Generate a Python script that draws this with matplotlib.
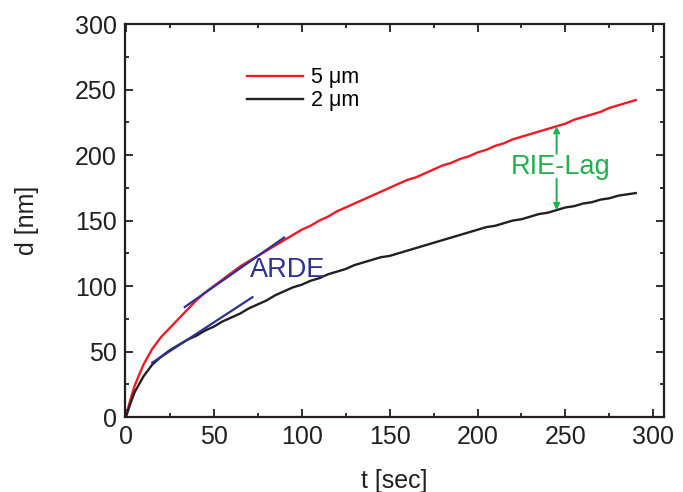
import matplotlib
matplotlib.use("Agg")
import matplotlib.pyplot as plt
from matplotlib.ticker import MultipleLocator

# etch depth vs time
t_sec = [0, 2.5] + list(range(5, 295, 5))
d_5um = [0, 13, 24, 40, 52, 61, 68, 75, 82, 89, 95, 100, 105, 110, 115, 119, 123,
         127, 131, 135, 139, 143, 146, 150, 153, 157, 160, 163, 166, 169, 172,
         175, 178, 181, 183, 186, 189, 192, 194, 197, 199, 202, 204, 207, 209,
         212, 214, 216, 218, 220, 222, 224, 227, 229, 231, 233, 236, 238, 240, 242]
d_2um = [0, 10, 19, 31, 40, 46, 51, 55, 59, 62, 66, 69, 73, 76, 79, 83, 86,
         89, 93, 96, 99, 101, 104, 106, 109, 111, 113, 116, 118, 120, 122,
         123, 125, 127, 129, 131, 133, 135, 137, 139, 141, 143, 145, 146, 148,
         150, 151, 153, 155, 156, 158, 160, 161, 163, 164, 166, 167, 169, 170, 171]

# initial-slope guide lines (ARDE)
arde_5um_t = [33.5, 90]
arde_5um_d = [84, 137]
arde_2um_t = [15, 72]
arde_2um_d = [41.5, 91.5]

# RIE lag marker
lag_t = 245
lag_top = 222
lag_bottom = 158

plt.rcParams['font.family'] = ['Liberation Sans', 'DejaVu Sans']
text_col = '#231f20'
blue = '#2e3192'
green = '#22b04b'

fig = plt.figure(figsize=(6.83, 4.92), dpi=100)
ax = fig.add_axes([0.183, 0.1524, 0.789, 0.7986])

ax.plot(t_sec, d_5um, color='#ed1c24', lw=1.7, label=u'5 \u03bcm')
ax.plot(t_sec, d_2um, color='#231f20', lw=1.7, label=u'2 \u03bcm')

ax.plot(arde_5um_t, arde_5um_d, color=blue, lw=1.6)
ax.plot(arde_2um_t, arde_2um_d, color=blue, lw=1.6)
ax.text(70.5, 107, 'ARDE', color=blue, fontsize=19.5)

arrow_kw = dict(arrowstyle='-|>', color=green, lw=1.4, mutation_scale=9,
                shrinkA=0, shrinkB=0)
ax.annotate('', xy=(lag_t, lag_top), xytext=(lag_t, 201), arrowprops=arrow_kw)
ax.annotate('', xy=(lag_t, lag_bottom), xytext=(lag_t, 182), arrowprops=arrow_kw)
ax.text(lag_t + 2, 191, 'RIE-Lag', color=green, fontsize=19.5, ha='center', va='center')

ax.set_xlim(-0.5, 306)
ax.set_ylim(0, 300)
ax.xaxis.set_major_locator(MultipleLocator(50))
ax.xaxis.set_minor_locator(MultipleLocator(25))
ax.yaxis.set_major_locator(MultipleLocator(50))
ax.yaxis.set_minor_locator(MultipleLocator(25))
ax.tick_params(which='both', direction='in', top=True, right=True,
               width=1.3, colors=text_col, labelsize=18)
ax.tick_params(which='major', length=6, pad=6)
ax.tick_params(which='minor', length=3)
for sp in ax.spines.values():
    sp.set_linewidth(1.6)
    sp.set_color(text_col)

ax.set_xlabel('t [sec]', fontsize=18, color=text_col, labelpad=14)
ax.set_ylabel('d [nm]', fontsize=18, color=text_col, labelpad=26)

ax.legend(loc='upper left', bbox_to_anchor=(0.19, 0.94), frameon=False,
          fontsize=15.5, handlelength=2.6, handletextpad=0.4, labelspacing=0.1)

fig.savefig('out.png', dpi=100)
